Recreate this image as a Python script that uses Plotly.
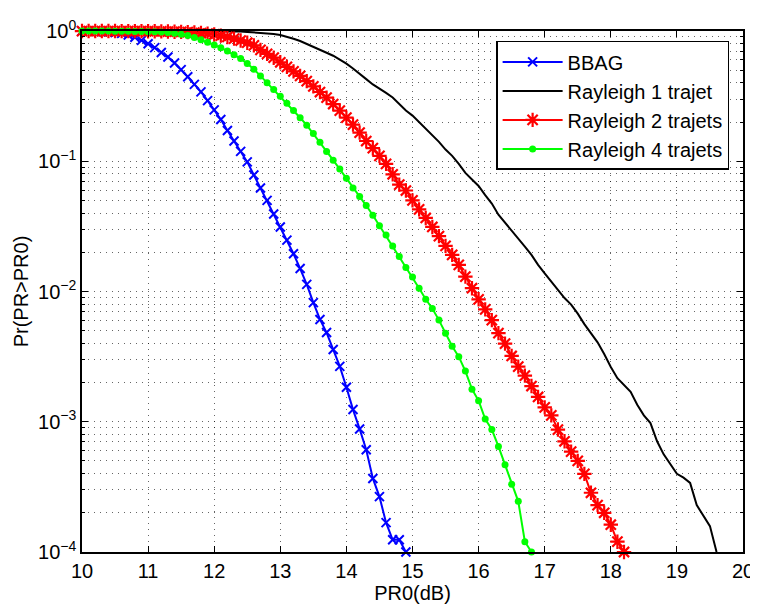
import plotly.graph_objects as go

# PR0 axis (dB), 0.1 dB steps
pr0_db = [10.0, 10.1, 10.2, 10.3, 10.4, 10.5, 10.6, 10.7, 10.8, 10.9,
          11.0, 11.1, 11.2, 11.3, 11.4, 11.5, 11.6, 11.7, 11.8, 11.9,
          12.0, 12.1, 12.2, 12.3, 12.4, 12.5, 12.6, 12.7, 12.8, 12.9,
          13.0, 13.1, 13.2, 13.3, 13.4, 13.5, 13.6, 13.7, 13.8, 13.9,
          14.0, 14.1, 14.2, 14.3, 14.4, 14.5, 14.6, 14.7, 14.8, 14.9,
          15.0, 15.1, 15.2, 15.3, 15.4, 15.5, 15.6, 15.7, 15.8, 15.9,
          16.0, 16.1, 16.2, 16.3, 16.4, 16.5, 16.6, 16.7, 16.8, 16.9,
          17.0, 17.1, 17.2, 17.3, 17.4, 17.5, 17.6, 17.7, 17.8, 17.9,
          18.0, 18.1, 18.2, 18.3, 18.4, 18.5, 18.6, 18.7, 18.8, 18.9,
          19.0, 19.1, 19.2, 19.3, 19.4, 19.5, 19.6]

# Pr(PR > PR0)
bbag = [0.998, 0.998, 0.995, 0.991, 0.984, 0.975, 0.959, 0.933, 0.895, 0.847,
        0.798, 0.745, 0.684, 0.631, 0.568, 0.505, 0.445, 0.389, 0.341, 0.292,
        0.248, 0.209, 0.172, 0.143, 0.119, 0.0989, 0.0785, 0.0624, 0.0501, 0.0394,
        0.0313, 0.0248, 0.0195, 0.0150, 0.01135, 0.00822, 0.00610, 0.00484, 0.00359, 0.00266,
        0.00184, 0.00124, 0.000881, 0.000610, 0.000367, 0.000266, 0.000168, 0.000124, 0.000124, 0.0001]

rayleigh1 = [1.0, 1.0, 1.0, 1.0, 1.0, 1.0, 1.0, 1.0, 1.0, 1.0,
             1.0, 1.0, 1.0, 1.0, 1.0, 1.0, 1.0, 1.0, 1.0, 1.0,
             1.0, 1.0, 1.0, 0.995, 0.991, 0.984, 0.977, 0.970, 0.962, 0.948,
             0.933, 0.906, 0.871, 0.838, 0.798, 0.759, 0.716, 0.681, 0.646, 0.603,
             0.562, 0.516, 0.473, 0.427, 0.389, 0.363, 0.335, 0.309, 0.275, 0.245,
             0.224, 0.200, 0.178, 0.158, 0.141, 0.123, 0.110, 0.0955, 0.0813, 0.0724,
             0.0646, 0.0550, 0.0473, 0.0389, 0.0339, 0.0295, 0.0254, 0.0221, 0.0191, 0.0160,
             0.0138, 0.0119, 0.0102, 0.00891, 0.00794, 0.00676, 0.00562, 0.00479, 0.00407, 0.00331,
             0.00263, 0.00216, 0.00191, 0.00170, 0.00135, 0.00112, 0.000977, 0.000708, 0.000562, 0.000468,
             0.000398, 0.000372, 0.000339, 0.000229, 0.000191, 0.000158, 0.0001]

rayleigh2 = [0.999, 0.999, 0.999, 0.999, 0.999, 0.999, 0.998, 0.998, 0.997, 0.997,
             0.996, 0.995, 0.993, 0.991, 0.988, 0.985, 0.980, 0.973, 0.965, 0.954,
             0.940, 0.922, 0.900, 0.874, 0.845, 0.813, 0.776, 0.716, 0.668, 0.624,
             0.575, 0.531, 0.490, 0.452, 0.412, 0.376, 0.340, 0.308, 0.275, 0.245,
             0.216, 0.191, 0.166, 0.143, 0.126, 0.110, 0.0955, 0.0794, 0.0661, 0.0596,
             0.0501, 0.0427, 0.0367, 0.0313, 0.0266, 0.0224, 0.0191, 0.0160, 0.0130, 0.0106,
             0.00871, 0.00729, 0.00603, 0.00479, 0.00398, 0.00320, 0.00265, 0.00226, 0.00188, 0.00155,
             0.00129, 0.00112, 0.000871, 0.000708, 0.000589, 0.000501, 0.000398, 0.000285, 0.000229, 0.000200,
             0.000162, 0.000120, 0.0001]

rayleigh4 = [0.999, 0.999, 0.999, 0.998, 0.998, 0.997, 0.996, 0.995, 0.993, 0.991,
             0.989, 0.986, 0.982, 0.973, 0.962, 0.946, 0.923, 0.891, 0.855, 0.818,
             0.782, 0.745, 0.702, 0.656, 0.614, 0.562, 0.509, 0.452, 0.400, 0.355,
             0.316, 0.279, 0.245, 0.216, 0.189, 0.163, 0.140, 0.119, 0.102, 0.0871,
             0.0741, 0.0624, 0.0537, 0.0457, 0.0385, 0.0320, 0.0272, 0.0224, 0.0186, 0.0153,
             0.0129, 0.0106, 0.00871, 0.00741, 0.00603, 0.00479, 0.00380, 0.00316, 0.00245, 0.00178,
             0.00145, 0.00105, 0.000871, 0.000646, 0.000468, 0.000331, 0.000245, 0.000120, 0.0001]

x_ticks = [10, 11, 12, 13, 14, 15, 16, 17, 18, 19, 20]
y_ticks = [1e-4, 1e-3, 1e-2, 1e-1, 1]
y_ticktext = ["10<sup>−4</sup>", "10<sup>−3</sup>", "10<sup>−2</sup>", "10<sup>−1</sup>", "10<sup>0</sup>"]
y_minor = [m * 10.0 ** e for e in range(-4, 0) for m in range(2, 10)]

FONT = "Liberation Sans, Arial, sans-serif"
GRID = "rgba(0,0,0,0.6)"
GRID_DASH = "1px,5px"

fig = go.Figure()

fig.add_trace(go.Scatter(
    x=pr0_db[:len(bbag)], y=bbag, name="BBAG", mode="lines+markers",
    line=dict(color="rgb(0,0,255)", width=2),
    marker=dict(symbol="x-thin-open", size=9, color="rgb(0,0,255)",
                line=dict(color="rgb(0,0,255)", width=2)),
    cliponaxis=False))

fig.add_trace(go.Scatter(
    x=pr0_db[:len(rayleigh1)], y=rayleigh1, name="Rayleigh 1 trajet", mode="lines",
    line=dict(color="black", width=2)))

fig.add_trace(go.Scatter(
    x=pr0_db[:len(rayleigh2)], y=rayleigh2, name="Rayleigh 2 trajets", mode="lines+markers",
    line=dict(color="rgb(255,0,0)", width=2),
    marker=dict(symbol="asterisk-open", size=12, color="rgb(255,0,0)",
                line=dict(color="rgb(255,0,0)", width=2.2)),
    cliponaxis=False))

fig.add_trace(go.Scatter(
    x=pr0_db[:len(rayleigh4)], y=rayleigh4, name="Rayleigh 4 trajets", mode="lines+markers",
    line=dict(color="rgb(0,255,0)", width=2),
    marker=dict(symbol="circle", size=7, color="rgb(0,255,0)"),
    cliponaxis=False))

# the page puts the figure 8px in from the top-left corner, so the figure is
# 8px smaller than the window and the margins are shifted to keep the axes in place
fig.update_layout(
    width=750, height=596,
    margin=dict(l=74, r=15, t=23, b=52),
    paper_bgcolor="white", plot_bgcolor="white",
    font=dict(family=FONT, size=20, color="black"),
    legend=dict(x=0.979, y=0.981, xanchor="right", yanchor="top",
                bgcolor="white", bordercolor="black", borderwidth=1.5,
                font=dict(size=20), tracegroupgap=0, itemwidth=60),
    xaxis=dict(range=[10, 20], tickmode="array", tickvals=x_ticks,
               ticks="inside", ticklen=6, tickcolor="black",
               showline=True, linecolor="black", linewidth=1.5, mirror="ticks",
               showgrid=True, gridcolor=GRID, griddash=GRID_DASH, gridwidth=1,
               zeroline=False, automargin=False,
               title=dict(text="PR0(dB)", font=dict(size=20), standoff=2)),
    yaxis=dict(type="log", range=[-4, 0], tickmode="array",
               tickvals=y_ticks, ticktext=y_ticktext,
               ticks="inside", ticklen=6, tickcolor="black",
               showline=True, linecolor="black", linewidth=1.5, mirror="ticks",
               showgrid=True, gridcolor=GRID, griddash=GRID_DASH, gridwidth=1,
               zeroline=False, automargin=False,
               minor=dict(tickmode="array", tickvals=y_minor, ticks="inside",
                          ticklen=3, tickcolor="black", showgrid=True,
                          gridcolor=GRID, griddash=GRID_DASH, gridwidth=1),
               title=dict(text="Pr(PR>PR0)", font=dict(size=20), standoff=4)),
)

fig.write_html("out.html")
